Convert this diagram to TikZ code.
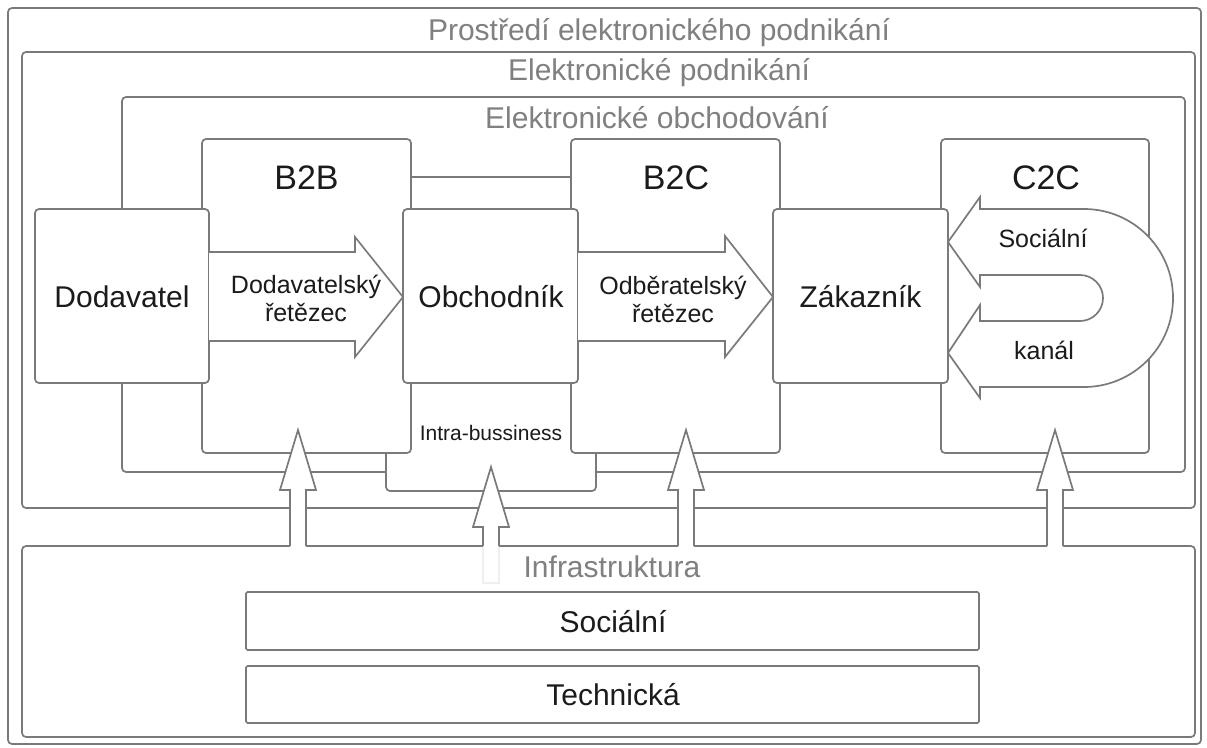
\documentclass[tikz,border=0pt]{standalone}
\usepackage{fontspec}
\setmainfont{Liberation Sans}
\definecolor{edge}{RGB}{122,122,122}
\definecolor{titlegray}{RGB}{128,128,128}
\definecolor{ink}{RGB}{28,26,26}
\begin{document}
\begin{tikzpicture}[x=1pt,y=-1pt,
  edgeline/.style={draw=edge, line width=1.7pt},
  panel/.style={edgeline, fill=white, rounded corners=4pt, inner sep=0pt, outer sep=0pt, anchor=north west},
  layer/.style={edgeline, fill=white, rounded corners=1.5pt, inner sep=0pt, outer sep=0pt, anchor=north west},
  headtext/.style={text=titlegray, font=\fontsize{30}{35}\selectfont, anchor=base, inner sep=0pt},
  boxtext/.style={text=ink, font=\fontsize{30}{36}\selectfont, anchor=base, inner sep=0pt},
  sectortext/.style={text=ink, font=\fontsize{34}{40}\selectfont, anchor=base, inner sep=0pt},
  flowtext/.style={text=ink, font=\fontsize{25}{28}\selectfont, align=center, inner sep=0pt},
  blockarrow/.style={edgeline, fill=white, line join=miter},
]
\useasboundingbox (0,0) rectangle (1207,747);

% nested environment frames
\node[panel, minimum width=1193pt, minimum height=736pt] (env) at (8,8) {};
\node[headtext] (envT) at (659,40) {Prostředí elektronického podnikání};
\node[panel, minimum width=1173pt, minimum height=456pt] (ebiz) at (22,52) {};
\node[headtext] (ebizT) at (659,80) {Elektronické podnikání};
\node[panel, minimum width=1063pt, minimum height=375pt] (ecom) at (122,97) {};
\node[headtext] (ecomT) at (657,128) {Elektronické obchodování};

% intra-business frame behind the sector frames
\node[panel, minimum width=210pt, minimum height=314pt] (intra) at (386,177) {};
\node[text=ink, font=\fontsize{21}{25}\selectfont, anchor=base, inner sep=0pt] (intraT) at (491,440) {Intra-bussiness};

% sector frames
\node[panel, minimum width=209pt, minimum height=314pt] (b2b) at (202,139) {};
\node[sectortext] (b2bT) at (306.5,189) {B2B};
\node[panel, minimum width=209pt, minimum height=314pt] (b2c) at (571,139) {};
\node[sectortext] (b2cT) at (676,189) {B2C};
\node[panel, minimum width=208pt, minimum height=314pt] (c2c) at (941,139) {};
\node[sectortext] (c2cT) at (1046,189) {C2C};

% actors
\node[panel, minimum width=174pt, minimum height=174pt] (dod) at (35,209) {};
\node[boxtext] (dodT) at (122,307) {Dodavatel};
\node[panel, minimum width=175pt, minimum height=174pt] (obch) at (403,209) {};
\node[boxtext] (obchT) at (491,307) {Obchodník};
\node[panel, minimum width=175pt, minimum height=174pt] (zak) at (773,209) {};
\node[boxtext] (zakT) at (860.5,307) {Zákazník};

% supply chain and customer chain arrows
\filldraw[blockarrow] (209,252) -- (355,252) -- (355,237) -- (403,297) -- (355,357) -- (355,341) -- (209,341);
\node[flowtext] (supplyT) at (306,298) {Dodavatelský\\řetězec};
\filldraw[blockarrow] (578,252) -- (725,252) -- (725,236) -- (773,297) -- (725,357) -- (725,341) -- (578,341);
\node[flowtext] (demandT) at (673,299) {Odběratelský\\řetězec};

% social channel U-turn arrow
\filldraw[blockarrow] (948,242) -- (980,197) -- (980,209) -- (1084,209)
  arc[start angle=-90, end angle=90, radius=89] -- (980,387) -- (980,398)
  -- (948,353) -- (980,305) -- (980,321) -- (1080,321)
  arc[start angle=90, end angle=-90, radius=23] -- (980,275) -- (980,287) -- cycle;
\node[flowtext, anchor=base] (socialT) at (1043,247) {Sociální};
\node[flowtext, anchor=base] (channelT) at (1044,359) {kanál};

% infrastructure
\node[panel, minimum width=1173pt, minimum height=191pt] (infra) at (22,546) {};
\node[headtext] (infraT) at (612,577) {Infrastruktura};
\node[layer, minimum width=733pt, minimum height=58pt] (soc) at (246,592) {};
\node[boxtext] (socT) at (613,632) {Sociální};
\node[layer, minimum width=733pt, minimum height=57pt] (tech) at (246,666) {};
\node[boxtext] (techT) at (613,705) {Technická};

% upward support arrows
\foreach \ax in {298,686,1055}{
  \fill[white] (\ax-8,548) -- (\ax-8,490) -- (\ax-18,490) -- (\ax,430) -- (\ax+18,490) -- (\ax+8,490) -- (\ax+8,548) -- cycle;
  \draw[edgeline, line join=miter] (\ax-8,546) -- (\ax-8,490) -- (\ax-18,490) -- (\ax,430) -- (\ax+18,490) -- (\ax+8,490) -- (\ax+8,546);
}
\fill[white] (483,583) -- (483,527) -- (473,527) -- (491,467) -- (509,527) -- (499,527) -- (499,583) -- cycle;
\draw[edgeline, line join=miter] (483,546) -- (483,527) -- (473,527) -- (491,467) -- (509,527) -- (499,527) -- (499,546);
\draw[draw=edge!12, line width=1.2pt] (483,547) -- (483,583) -- (499,583) -- (499,547);
\end{tikzpicture}
\end{document}
